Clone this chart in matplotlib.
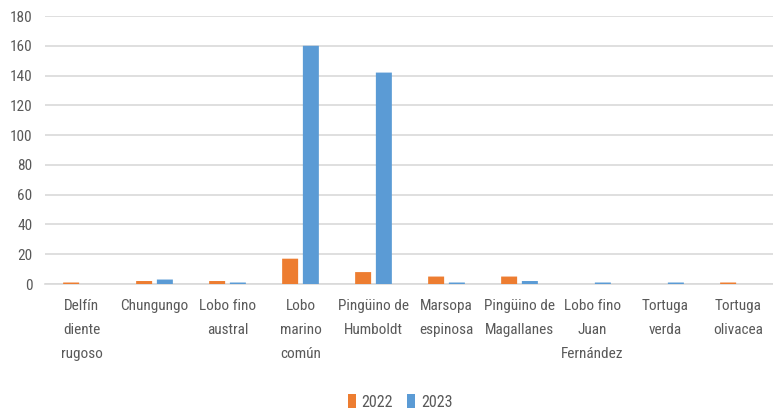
import matplotlib
matplotlib.use("Agg")
import matplotlib.pyplot as plt
import numpy as np
from matplotlib import font_manager

categories = ["Delfín\ndiente\nrugoso", "Chungungo", "Lobo fino\naustral", "Lobo\nmarino\ncomún",
              "Pingüino de\nHumboldt", "Marsopa\nespinosa", "Pingüino de\nMagallanes",
              "Lobo fino\nJuan\nFernández", "Tortuga\nverda", "Tortuga\nolivacea"]
v2022 = [1, 2, 2, 17, 8, 5, 5, 0, 0, 1]
v2023 = [0, 3, 1, 160, 142, 1, 2, 1, 1, 0]
yticks = [0, 20, 40, 60, 80, 100, 120, 140, 160, 180]

fl = font_manager.fontManager.ttflist
names = {f.name for f in fl}
stretch = 'normal'
if "Liberation Sans Narrow" in names:
    fam = "Liberation Sans Narrow"; size = 11.5
elif "Roboto Condensed" in names:
    fam = "Roboto Condensed"; size = 11
elif any(f.name == "DejaVu Sans" and f.stretch == 'condensed' for f in fl):
    fam = "DejaVu Sans"; stretch = 'condensed'; size = 9.5
else:
    fam = "DejaVu Sans"; size = 9
plt.rcParams['font.family'] = [fam, 'DejaVu Sans']
plt.rcParams['font.stretch'] = stretch

W, H = 773, 413
fig = plt.figure(figsize=(W/100, H/100), dpi=100)
ax = fig.add_axes([45/W, (H-284)/H, 730/W, 268/H])

x = np.arange(len(categories))
bw = 0.219
off = 0.142
a22 = np.array(v2022, float); a23 = np.array(v2023, float)
m22 = a22 > 0; m23 = a23 > 0
ax.bar(x[m22] - off, a22[m22], bw, color="#ED7D31", label="2022", zorder=3, linewidth=0, snap=False)
ax.bar(x[m23] + off, a23[m23], bw, color="#5B9BD5", label="2023", zorder=3, linewidth=0, snap=False)

ax.set_xlim(-0.5, len(categories) - 0.5)
ax.set_ylim(0, 180)
ax.set_yticks(yticks)
ax.set_yticklabels([str(t) for t in yticks])
ax.grid(axis='y', color="#D9D9D9", linewidth=1.2, zorder=0)
ax.set_axisbelow(True)
for s in ['top', 'right', 'left']:
    ax.spines[s].set_visible(False)
ax.spines['bottom'].set_color("#D9D9D9")
ax.spines['bottom'].set_linewidth(1.2)
ax.spines['bottom'].set_zorder(1)
ax.tick_params(axis='both', length=0, colors="#595959", labelsize=size)
ax.tick_params(axis='y', pad=9)
ax.set_xticks(x)
ax.set_xticklabels(categories, linespacing=1.9, va='top')
ax.tick_params(axis='x', pad=11)

leg = fig.legend(loc='center', bbox_to_anchor=(400/W, (H-402)/H), ncol=2, frameon=False,
                 fontsize=size + 0.5, handlelength=0.5, handleheight=0.9, handletextpad=0.35,
                 columnspacing=0.9, labelcolor="#595959")

fig.savefig("out.png", dpi=100)
